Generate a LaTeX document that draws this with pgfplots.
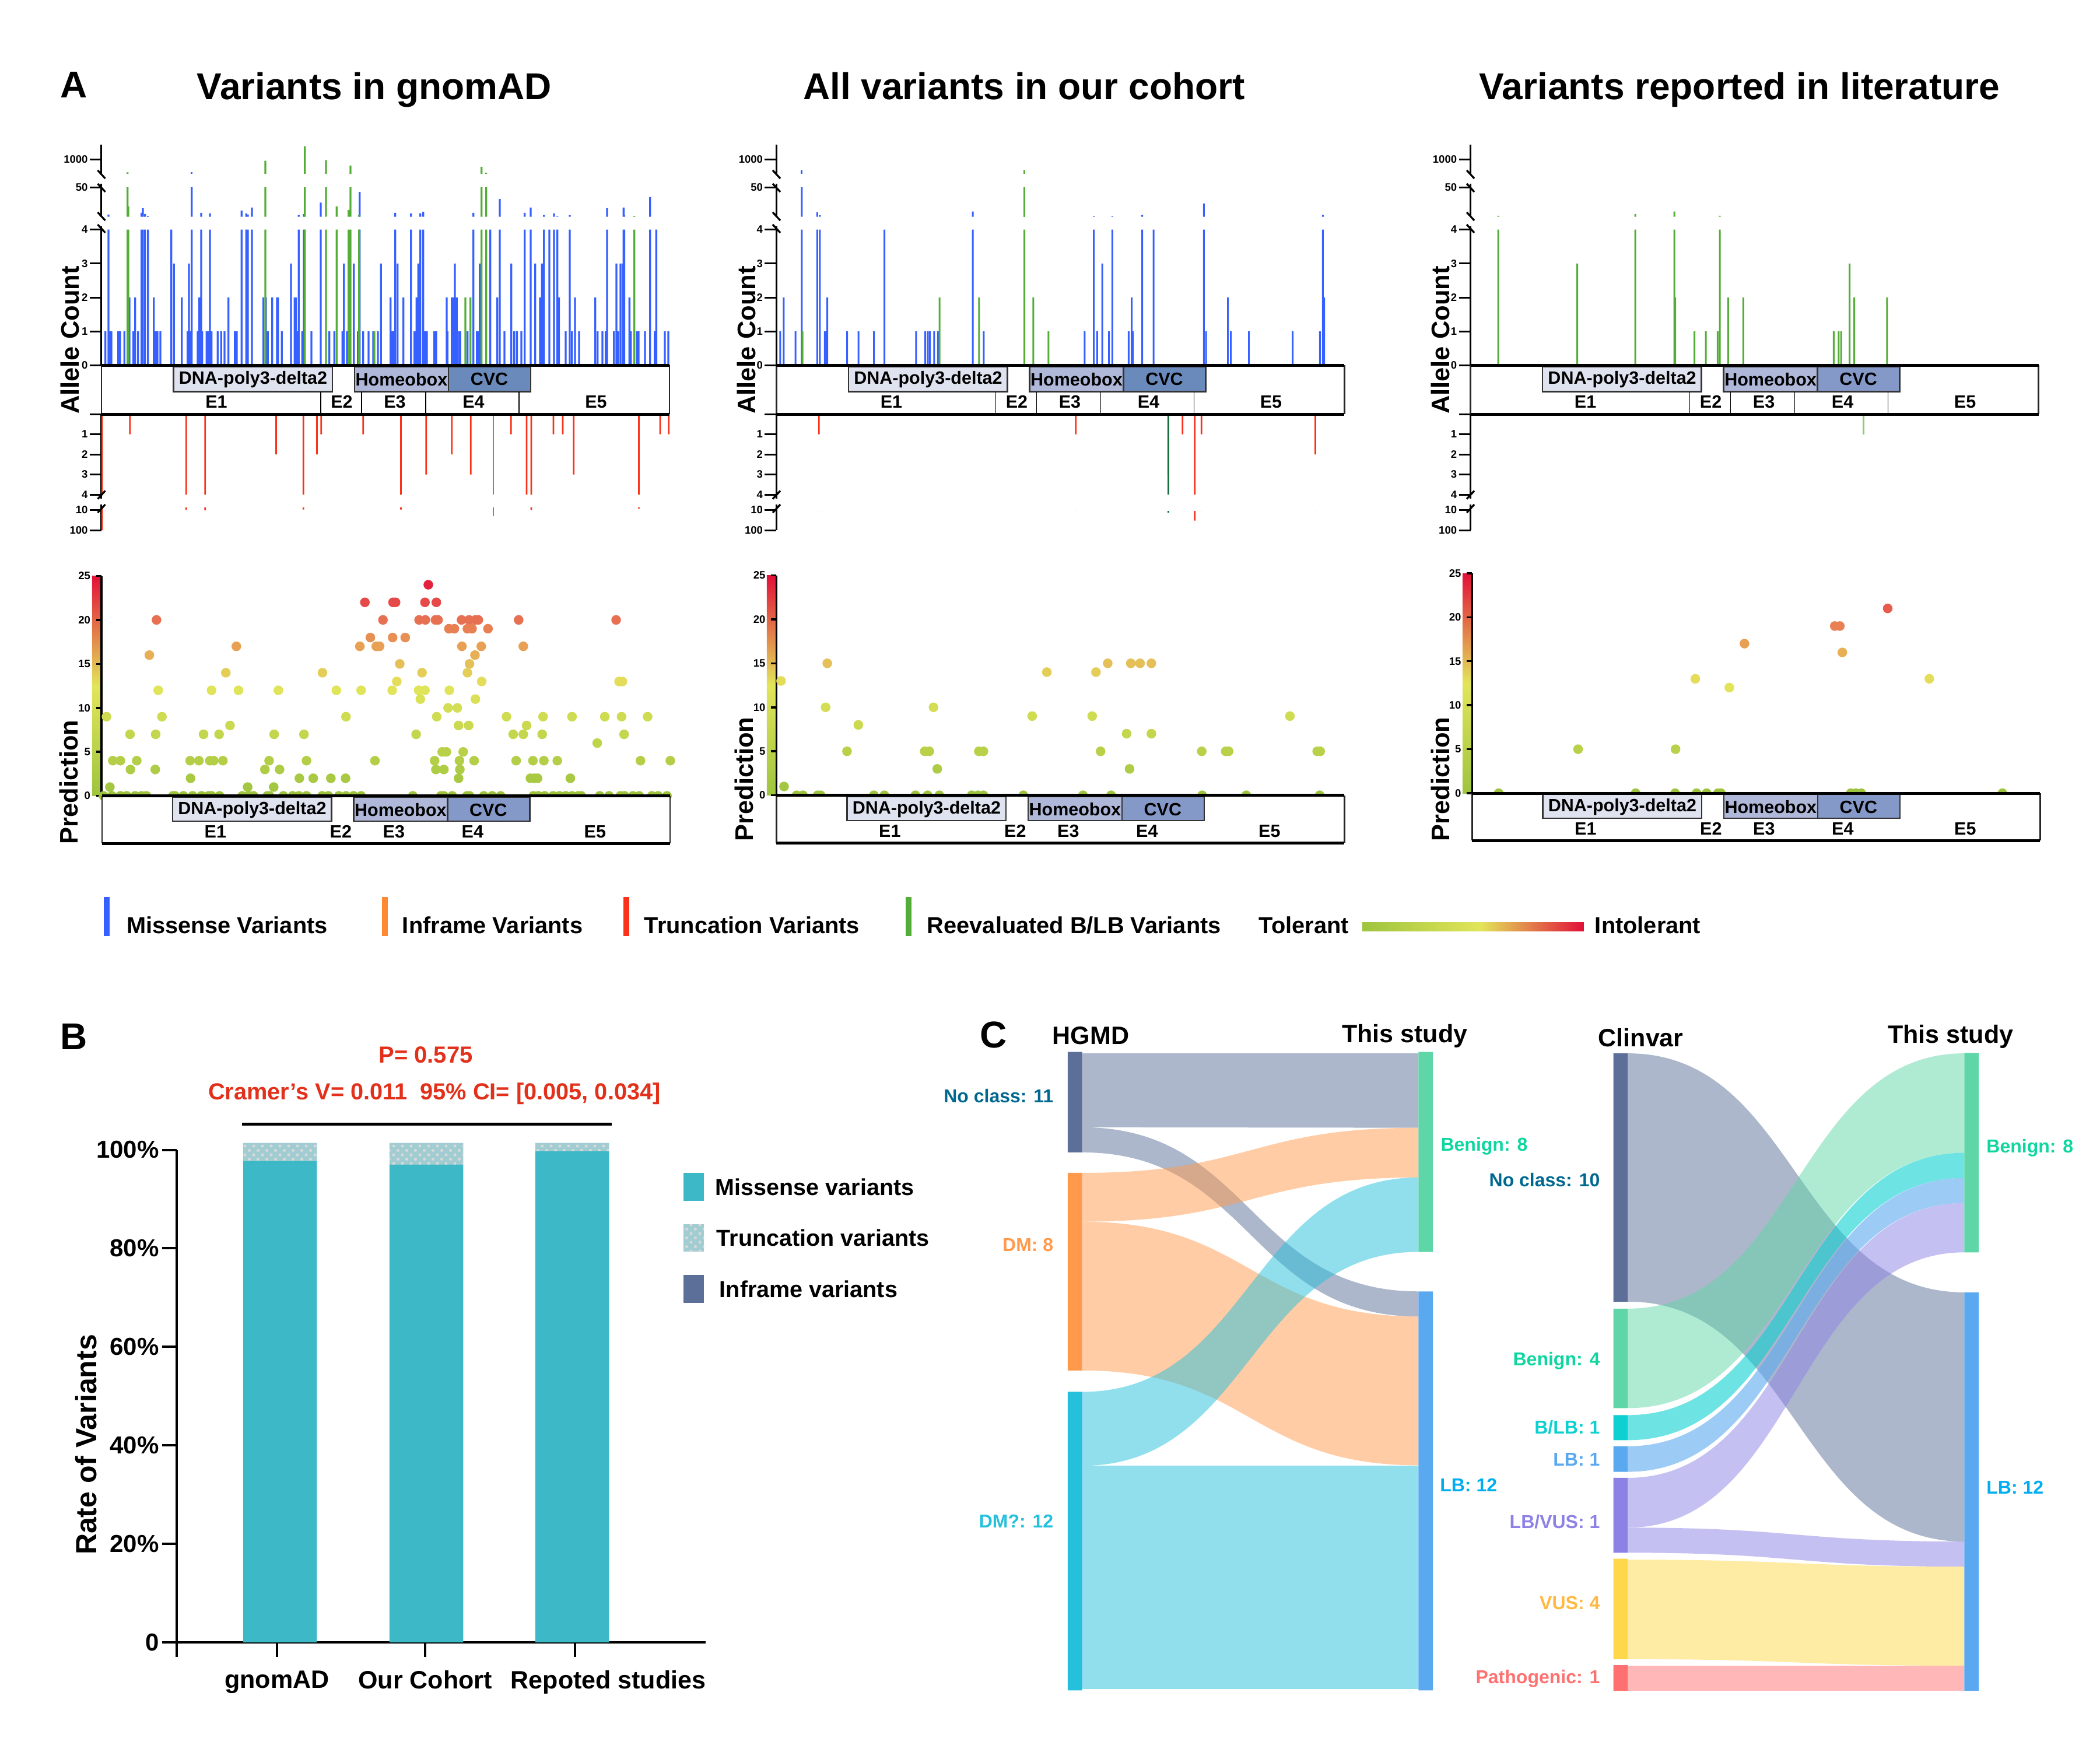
\documentclass[border=0pt]{standalone}
\usepackage{fontspec}
\setmainfont{Liberation Sans}
\usepackage{pgfplots}
\usepackage{pgfplotstable}
\pgfplotsset{compat=1.18}
\usetikzlibrary{patterns}
\definecolor{cblue}{HTML}{3660FF}
\definecolor{cgreen}{HTML}{54AD37}
\definecolor{clgreen}{HTML}{8CCB73}
\definecolor{cdgreen}{HTML}{1A7040}
\definecolor{cred}{HTML}{FA3219}
\definecolor{corange}{HTML}{FF8833}
\definecolor{cteal}{HTML}{3CB8C6}
\definecolor{cgrey}{HTML}{5B6F98}
\definecolor{cmint}{HTML}{5FD6A8}
\definecolor{csky}{HTML}{5AA9F0}
\definecolor{ccyan}{HTML}{24C0DC}
\definecolor{cpeach}{HTML}{FF9A4D}
\definecolor{cturq}{HTML}{0ED0D0}
\definecolor{cviolet}{HTML}{8C82E6}
\definecolor{cyel}{HTML}{FED84A}
\definecolor{cpink}{HTML}{FF7070}
\definecolor{tnavy}{HTML}{00688F}
\definecolor{tmint}{HTML}{0FD6A0}
\definecolor{tsky}{HTML}{00AEF0}
\definecolor{torange}{HTML}{FFB840}
\definecolor{tred}{HTML}{E2301A}
\definecolor{cb0}{RGB}{158,196,62}
\definecolor{cb1}{RGB}{226,229,90}
\definecolor{cb2}{RGB}{226,16,56}
\newcommand{\fs}[1]{\fontsize{#1}{#1}\selectfont\bfseries}
\pgfplotsset{colormap={tol}{rgb255(0cm)=(158,196,62) rgb255(2.5cm)=(226,229,90) rgb255(3.4cm)=(232,160,85) rgb255(4cm)=(232,112,82) rgb255(5cm)=(226,16,56)}}

% ---------- Panel A, allele counts, position in picture pixels
\pgfplotstableread[row sep=\\]{x y\\
180.7 1\\186 7.3\\189 1\\191 1\\202.7 1\\206 1\\213.3 1\\222 2\\228.7 1\\231.7 2\\236.7 1\\242.7 10\\245 17.3\\248.7 8.2\\253.7 5.2\\263.7 2\\267.3 1\\270 1\\275 1\\293.7 4\\298.3 3\\311.7 2\\321.7 1\\324 3\\326.7 1\\328.7 153\\339 1\\341.7 2\\345 10\\346.7 1\\354.3 1\\356.7 1\\360 9.1\\362.7 1\\373.3 1\\379.3 1\\385 1\\391.7 2\\402.7 1\\406 1\\414.3 13.4\\422.3 9.1\\425 7.3\\432 18.2\\451.7 2\\456 2\\459.3 1\\466.7 2\\475 2\\476.7 2\\483.3 1\\499 3\\505.3 2\\507.3 2\\509.3 1\\512.3 6.4\\518.3 1\\521 8.2\\534 1\\550 26\\564.7 1\\573.3 1\\587.3 1\\589.7 3\\595 1\\606.7 3\\613.7 1\\616.7 42.7\\622.7 1\\632 1\\640 1\\648 1\\653.3 3\\
669.7 2\\672.7 1\\675.3 1\\677.7 10\\681.7 3\\691.7 2\\704.7 9.1\\710.7 1\\714.3 2\\717.3 3\\720.7 9.1\\725.7 11.6\\728.7 1\\732 1\\744.7 1\\748 1\\766 2\\767.3 1\\774.7 2\\777.3 2\\780 3\\783.3 2\\787 1\\789.3 1\\801.7 1\\811.7 10\\817.7 1\\820.7 1\\822.7 3\\840.7 4\\852.7 2\\857 31.8\\865 1\\876.7 3\\881.7 1\\886.3 1\\894 1\\899.7 10\\910 18.2\\917.7 3\\926 2\\929.3 3\\932.7 6.4\\942 4\\950 9.1\\955.7 4.9\\958.3 2\\970 1\\977 6.4\\980.7 1\\986 2\\993 1\\1020.7 2\\1024.7 1\\1033 1\\1038.7 1\\1041 17.3\\1052.7 1\\1057 3\\1060 1\\1064 3\\1068 3\\1069.3 18.2\\1070.5 6\\1079.3 2\\1081.7 1\\1092.3 1\\1095 1\\1106 1\\1114.7 34.6\\1122.7 1\\1125.3 4\\1140 1\\1146 1\\
}\blueA
\pgfplotstableread[row sep=\\]{x y\\
218.7 153\\220 20\\455 897\\522.7 1835\\559 936\\577.3 20\\597.7 14.6\\601 589\\615.7 6.4\\642 1\\798 2\\806.7 2\\825.7 512\\833.7 114\\1087.7 5.2\\
}\greenA
\pgfplotstableread[row sep=\\]{x y\\
175 100\\222.7 1\\319.3 10\\351.7 12\\473.5 2\\520.3 9\\543.4 2\\550.6 1\\622.7 1\\687.5 9\\730.8 3\\774.7 2\\807.2 3\\876.3 1\\903 4\\911 11\\949 1\\965 1\\983.7 3\\1095.4 5\\1132 1\\1146.6 1\\
}\redA
\pgfplotstableread[row sep=\\]{x y\\
846 38\\
}\lgreenA

\pgfplotstableread[row sep=\\]{x y\\
1338 1\\1343.8 2\\1364 1\\1374.8 278\\1401.4 10.8\\1405.8 6.3\\1414.4 1\\1416.6 1\\1418.7 2\\1452.6 1\\1472 1\\1498.7 1\\1516.7 4\\1570.8 1\\1586.6 1\\1591 1\\1594.6 1\\1601.8 1\\1608.3 1\\1668 12\\1686.8 1\\1859.8 1\\1875.6 5\\1881.4 1\\1890 3\\1901.6 1\\1907.3 5\\1935.4 1\\1940.5 2\\1942.6 1\\1958.5 6.7\\1978 4\\2064.4 24.7\\2068 1\\2105.5 2\\2110.6 1\\2141.6 1\\2216.5 1\\2263.3 1\\2268.4 6.7\\2270.6 2\\
}\blueB
\pgfplotstableread[row sep=\\]{x y\\
1376.2 1\\1611 2\\1678.9 2\\1756.7 278\\1771.8 2\\1797.8 1\\
}\greenB
\pgfplotstableread[row sep=\\]{x y\\
1404.3 1\\1844.6 1\\2003.2 3\\2027.7 1\\2048.6 58\\2060.1 1\\2255.4 2\\
}\redB
\pgfplotstableread[row sep=\\]{x y\\
2003.6 23\\
}\lgreenB

\pgfplotstableread[row sep=\\]{x y\\
2569.2 5.5\\2704.7 3\\2804.1 8\\2871.1 12.2\\2872.6 2\\2905.7 1\\2925.2 1\\2945.4 1\\2949 5.5\\2963.4 2\\2989.3 2\\3144.3 1\\3152.9 1\\3157.2 1\\3171.7 3\\3179.6 2\\3235.8 2\\
}\greenC
\pgfplotstableread[row sep=\\]{x y\\
3195.4 1\\
}\lgreenC

% ---------- Panel A, prediction scores
\pgfplotstableread[row sep=\\]{x y\\
908 24\\757 22\\824 22\\830 22\\900 22\\927 22\\
261 20\\800 20\\886 20\\901 20\\925 20\\931 20\\987 20\\1005 20\\1020 20\\1027 20\\1123 20\\1355 20\\
957 19\\970 19\\1001 19\\1012 19\\1050 19\\770 18\\823 18\\853 18\\
451 17\\745 17\\784 17\\792 17\\988 17\\1034 17\\1134 17\\244 16\\1019 16\\840 15\\1006 15\\
426 14\\656 14\\893 14\\1001 14\\833 13\\1035 13\\1362 13\\1370 13\\
265 12\\392 12\\456 12\\551 12\\689 12\\748 12\\822 12\\885 12\\900 12\\958 12\\889 11\\1020 11\\955 10\\977 10\\
142 9\\274 9\\712 9\\928 9\\1094 9\\1181 9\\1250 9\\1328 9\\1368 9\\1430 9\\436 8\\980 8\\1004 8\\1142 8\\
198 7\\259 7\\373 7\\410 7\\541 7\\612 7\\879 7\\1110 7\\1134 7\\1179 7\\1374 7\\1310 6\\941 5\\951 5\\991 5\\
157 4\\175 4\\214 4\\341 4\\362 4\\388 4\\397 4\\419 4\\529 4\\618 4\\781 4\\923 4\\982 4\\1017 4\\1117 4\\1157 4\\1183 4\\1215 4\\1413 4\\1484 4\\
199 3\\258 3\\519 3\\554 3\\926 3\\945 3\\983 3\\342 2\\601 2\\634 2\\676 2\\711 2\\980 2\\1151 2\\1160 2\\1168 2\\1246 2\\150 1\\478 1\\540 1\\
135 0\\155 0\\175 0\\190 0\\210 0\\225 0\\237 0\\300 0\\305 0\\325 0\\347 0\\368 0\\385 0\\392 0\\411 0\\465 0\\480 0\\492 0\\525 0\\530 0\\563 0\\585 0\\600 0\\618 0\\655 0\\670 0\\695 0\\712 0\\730 0\\748 0\\871 0\\938 0\\945 0\\965 0\\1000 0\\1006 0\\1040 0\\1060 0\\1080 0\\1158 0\\1170 0\\1185 0\\1205 0\\1220 0\\1235 0\\1250 0\\1265 0\\1272 0\\1316 0\\1338 0\\1365 0\\1375 0\\1395 0\\1410 0\\1440 0\\1455 0\\1476 0\\
}\scatA
\pgfplotstableread[row sep=\\]{x y\\
138 13\\248 15\\916 15\\971 15\\993 15\\1020 15\\771 14\\888 14\\244 10\\501 10\\736 9\\879 9\\1350 9\\322 8\\961 7\\1020 7\\295 5\\480 5\\491 5\\609 5\\620 5\\899 5\\1140 5\\1197 5\\1204 5\\1415 5\\1422 5\\510 3\\968 3\\145 1\\
175 0\\190 0\\225 0\\232 0\\359 0\\384 0\\458 0\\487 0\\515 0\\592 0\\607 0\\620 0\\715 0\\857 0\\924 0\\1141 0\\1246 0\\1421 0\\
}\scatB
\pgfplotstableread[row sep=\\]{x y\\
1134 21\\1008 19\\1020 19\\793 17\\1026 16\\676 13\\1233 13\\757 12\\397 5\\629 5\\208 0\\534 0\\628 0\\679 0\\703 0\\730 0\\737 0\\1046 0\\1058 0\\1071 0\\1407 0\\
}\scatC

\tikzset{px/.style={x=0.2pt,y=-0.2pt}}
\pgfplotsset{
 pos/.style n args={2}{at={({#1*0.2pt},{-#2*0.2pt})}},
 segbase/.style={scale only axis, axis x line=none, axis y line=left,
   y axis line style={-,line width=.6pt,black},
   ytick style={line width=.6pt,black}, tick align=outside, major tick length=4pt,
   minor tick num=0, width=194.8pt, anchor=south west, clip=true,
   /pgf/number format/assume math mode=true, /pgf/number format/1000 sep={},
   yticklabel style={font=\fs{3.7},inner sep=.5pt}},
 up1/.style={segbase,height=47.72pt,ymin=0,ymax=4.1,ytick={0,1,2,3,4},y filter/.expression={y>4?4:y}},
 up2/.style={segbase,height=11.3pt,ymin=4,ymax=55.5,ytick={50},y filter/.expression={y>50?50:y},restrict y to domain=4.1:100000},
 up3/.style={segbase,height=10pt,ymin=50,ymax=1950,ytick={1000},restrict y to domain=50.1:100000},
 lo1/.style={segbase,height=29pt,ymin=0,ymax=4.2,y dir=reverse,ytick={0,1,2,3,4},yticklabels={,1,2,3,4},y filter/.expression={y>4?4:y}},
 lo2/.style={segbase,height=8.86pt,ymin=-14,ymax=100,y dir=reverse,ytick={10,100},restrict y to domain=4.5:100000},
 pred/.style={scale only axis, axis x line=none, axis y line=left,
   y axis line style={-,line width=.7pt,black},
   ytick style={line width=.7pt,black}, tick align=outside, major tick length=1.8pt,
   minor tick num=0, width=194.8pt, height=75.42pt, anchor=south west, clip=false,
   ymin=0,ymax=25,ytick={0,5,10,15,20,25},
   /pgf/number format/assume math mode=true,
   colormap name=tol, point meta min=0, point meta max=25,
   yticklabel style={font=\fs{3.7},inner sep=0pt,xshift=-1.8pt}},
}
\newcommand{\bars}[3]{\addplot[ybar,bar width=#3,bar shift=0pt,fill=#1,draw=none] table[x=x,y=y]{#2};}
\newcommand{\scatplot}[1]{\addplot[scatter,only marks,mark=*,mark size=1.45pt,point meta=y,
   scatter/use mapped color={draw=mapped color,fill=mapped color}] table[x=x,y=y]{#1};}
\newcommand{\brkd}[2]{\draw[line width=.65pt] (#1-6.5,#2-7) -- (#1+6.5,#2+7);}
\newcommand{\brku}[2]{\draw[line width=.65pt] (#1-6.5,#2+7) -- (#1+6.5,#2-7);}
\newcommand{\breaks}[1]{\brkd{#1}{299}\brkd{#1}{322}\brkd{#1}{371}\brkd{#1}{392}\brku{#1}{848.5}\brku{#1}{872}}
% gene box: left, top, bottom, domain offset, domain bottom, label row, CVC colour
\newcommand{\genebox}[7]{%
 \fill[white] (#1,#2) rectangle (#1+974,#3);
 \draw[line width=.55pt,black!85] (#1,#2) -- (#1,#3) (#1+974,#2) -- (#1+974,#3);
 \filldraw[fill=HDna,draw=black!80,line width=.5pt] (#1+123.6+#4,#2+2) rectangle (#1+396+#4,#5);
 \filldraw[fill=HHom,draw=black!80,line width=.5pt] (#1+434+#4,#2+2) rectangle (#1+595+#4,#5);
 \filldraw[fill=#7,draw=black!80,line width=.5pt] (#1+595+#4,#2+2) rectangle (#1+736+#4,#5);
 \path[font=\fs{6.1}] (#1+260+#4,#2+24) node{DNA-poly3-delta2}
   (#1+514.5+#4,#2+24) node{Homeobox} (#1+665+#4,#2+24) node{CVC};
 \path[font=\fs{6.1}] (#1+197+#4,#6) node{E1} (#1+412+#4,#6) node{E2}
   (#1+503+#4,#6) node{E3} (#1+638+#4,#6) node{E4} (#1+848+#4,#6) node{E5};
 \draw[line width=1pt] (#1,#2) -- (#1+974,#2) (#1,#3) -- (#1+974,#3);
}
\newcommand{\dividers}[1]{\draw[line width=.25pt] (#1+376,671.6) -- (#1+376,710) (#1+446,671.6) -- (#1+446,710) (#1+556,671.6) -- (#1+556,710) (#1+716,671.6) -- (#1+716,710);}
\definecolor{HDna}{HTML}{DFE3EF}
\definecolor{HHom}{HTML}{B0B8D9}
\definecolor{HCvcA}{HTML}{6B8ABC}
\definecolor{HCvcB}{HTML}{8599C8}
% colour bar: left, right, top, bottom
\newcommand{\cbar}[4]{\shade[bottom color=cb0,top color=cb1] (#1,#4) rectangle (#2,#3*0.5+#4*0.5+0.5);
 \shade[bottom color=cb1,top color=cb2] (#1,#3*0.5+#4*0.5) rectangle (#2,#3);}
% Sankey band: x0,xm,x1,s0,s1,t0,t1,colour,opacity from \bandop
\newcommand{\band}[9][.5]{\fill[#9,fill opacity=#1] (axis cs:#2,#5) .. controls (axis cs:#3,#5) and (axis cs:#3,#7) .. (axis cs:#4,#7) -- (axis cs:#4,#8) .. controls (axis cs:#3,#8) and (axis cs:#3,#6) .. (axis cs:#2,#6) -- cycle;}
\newcommand{\snode}[5]{\addplot[fill=#5,draw=none] coordinates {(#1,#3) (#2,#3) (#2,#4) (#1,#4) (#1,#3)};}

\begin{document}
\begin{tikzpicture}
\useasboundingbox (0pt,0pt) rectangle (720.2pt,-603pt);

\begin{scope}[px]
\node[font=\fs{12.8}] at (127,145) {A};
\node[font=\fs{12.8},anchor=base] at (642,170) {Variants in gnomAD};
\node[font=\fs{12.8},anchor=base] at (1756,170) {All variants in our cohort};
\node[font=\fs{12.8},anchor=base] at (2983,170) {Variants reported in literature};
\end{scope}

% ----- column 1
\begin{axis}[up3,pos={174}{298},xmin=174,xmax=1148] \bars{cblue}{\blueA}{.66pt}\bars{cgreen}{\greenA}{.66pt} \end{axis}
\begin{axis}[up2,pos={174}{371.5},xmin=174,xmax=1148] \bars{cblue}{\blueA}{.66pt}\bars{cgreen}{\greenA}{.66pt} \end{axis}
\begin{axis}[up1,pos={174}{626.4},xmin=174,xmax=1148] \bars{cblue}{\blueA}{.66pt}\bars{cgreen}{\greenA}{.66pt} \end{axis}
\begin{axis}[lo1,pos={174}{855},xmin=174,xmax=1148] \bars{cred}{\redA}{.55pt}\bars{cgreen}{\lgreenA}{.55pt} \end{axis}
\begin{axis}[lo2,pos={174}{909},xmin=174,xmax=1148] \bars{cred}{\redA}{.55pt}\bars{cgreen}{\lgreenA}{.55pt} \end{axis}
\begin{scope}[px]
\breaks{174}
\genebox{174}{626.4}{710}{0}{671.6}{689}{HCvcA}
\dividers{174}
\node[font=\fs{8.7},rotate=90] at (120,583) {Allele Count};
\cbar{158}{174}{987.5}{1364.6}
\end{scope}
\begin{axis}[pred,pos={174}{1364.6},xmin=130,xmax=1482] \scatplot{\scatA} \end{axis}
\begin{scope}[px]
\genebox{175}{1364.6}{1446}{-2.6}{1408}{1426}{HCvcB}
\node[font=\fs{8.7},rotate=90] at (118,1341) {Prediction};
\end{scope}

% ----- column 2
\begin{axis}[up3,pos={1331.5}{298},xmin=1331.5,xmax=2305.5] \bars{cblue}{\blueB}{.6pt}\bars{cgreen}{\greenB}{.6pt} \end{axis}
\begin{axis}[up2,pos={1331.5}{371.5},xmin=1331.5,xmax=2305.5] \bars{cblue}{\blueB}{.6pt}\bars{cgreen}{\greenB}{.6pt} \end{axis}
\begin{axis}[up1,pos={1331.5}{626.4},xmin=1331.5,xmax=2305.5] \bars{cblue}{\blueB}{.6pt}\bars{cgreen}{\greenB}{.6pt} \end{axis}
\begin{axis}[lo1,pos={1331.5}{855},xmin=1331.5,xmax=2305.5] \bars{cred}{\redB}{.55pt}\bars{cdgreen}{\lgreenB}{.55pt} \end{axis}
\begin{axis}[lo2,pos={1331.5}{909},xmin=1331.5,xmax=2305.5] \addplot[draw=none] coordinates {(1331.5,10)}; \end{axis}
\begin{axis}[scale only axis,hide axis,pos={1331.5}{909},anchor=south west,width=194.8pt,height=6.6pt,xmin=1331.5,xmax=2305.5,ymin=15,ymax=100,y dir=reverse,clip=true] \bars{cred}{\redB}{.55pt}\bars{cdgreen}{\lgreenB}{.55pt} \end{axis}
\begin{scope}[px]
\breaks{1331.5}
\genebox{1331.5}{626.4}{710}{0}{671.6}{689}{HCvcA}
\dividers{1331.5}
\node[font=\fs{8.7},rotate=90] at (1280,583) {Allele Count};
\cbar{1315}{1331.5}{986.5}{1363.6}
\end{scope}
\begin{axis}[pred,pos={1331.5}{1363.6},xmin=127,xmax=1480] \scatplot{\scatB} \end{axis}
\begin{scope}[px]
\genebox{1331.5}{1363.6}{1445}{-2.6}{1407}{1425}{HCvcB}
\node[font=\fs{8.7},rotate=90] at (1276,1336) {Prediction};
\end{scope}

% ----- column 3
\begin{axis}[up3,pos={2521.6}{298},xmin=2521.6,xmax=3495.6] \addplot[draw=none] coordinates {(2521.6,1000)}; \end{axis}
\begin{axis}[up2,pos={2521.6}{371.5},xmin=2521.6,xmax=3495.6] \bars{cgreen}{\greenC}{.6pt} \end{axis}
\begin{axis}[up1,pos={2521.6}{626.4},xmin=2521.6,xmax=3495.6] \bars{cgreen}{\greenC}{.6pt} \end{axis}
\begin{axis}[lo1,pos={2521.6}{855},xmin=2521.6,xmax=3495.6] \bars{clgreen}{\lgreenC}{.5pt} \end{axis}
\begin{axis}[lo2,pos={2521.6}{909},xmin=2521.6,xmax=3495.6] \addplot[draw=none] coordinates {(2521.6,10)}; \end{axis}
\begin{scope}[px]
\breaks{2521.6}
\genebox{2521.6}{626.4}{710}{0}{671.6}{689}{HCvcB}
\dividers{2521.6}
\node[font=\fs{8.7},rotate=90] at (2470,583) {Allele Count};
\cbar{2508}{2524.5}{983}{1360}
\end{scope}
\begin{axis}[pred,pos={2524.5}{1360},xmin=145,xmax=1497] \scatplot{\scatC} \end{axis}
\begin{scope}[px]
\genebox{2524.5}{1360}{1441}{-2.6}{1403}{1421}{HCvcB}
\node[font=\fs{8.7},rotate=90] at (2470,1336) {Prediction};

% ----- legend of panel A
\fill[cblue] (178.5,1538) rectangle (188.5,1605);
\fill[corange] (655,1538) rectangle (665,1605);
\fill[cred] (1069.5,1538) rectangle (1079.5,1605);
\fill[cgreen] (1553,1538) rectangle (1563,1605);
\path[font=\fs{7.95}] (216,1586) node[anchor=west,inner sep=0pt]{Missense Variants}
 (689,1586) node[anchor=west,inner sep=0pt]{Inframe Variants}
 (1104,1586) node[anchor=west,inner sep=0pt]{Truncation Variants}
 (1589,1586) node[anchor=west,inner sep=0pt]{Reevaluated B/LB Variants}
 (2158,1586) node[anchor=west,inner sep=0pt]{Tolerant}
 (2734,1586) node[anchor=west,inner sep=0pt]{Intolerant};
\shade[left color=cb0,right color=cb1] (2336,1581) rectangle (2540,1596);
\shade[left color=cb1,right color=cb2] (2539,1581) rectangle (2716,1596);
\node[font=\fs{12.8}] at (127,1777) {B};
\end{scope}

% ----- panel B
\begin{axis}[scale only axis,pos={303.5}{2816},anchor=south west,width=181.22pt,height=168.9pt,
  xmin=303.5,xmax=1209.6,ymin=0,ymax=100,clip=false,ybar stacked,bar width=25.3pt,
  axis x line=bottom,axis y line=left,
  axis line style={-,line width=.8pt,black},
  tick style={line width=.8pt,black},tick align=outside,major tick length=5pt,
  xtick={303.5,475,729,986},
  xticklabels={,gnomAD,Our Cohort,\hspace*{22.8pt}Repoted studies},
  ytick={0,20,40,60,80,100},yticklabels={0,20\%,40\%,60\%,80\%,100\%},
  x tick label style={font=\fs{8.6},yshift=-1.2pt},
  y tick label style={font=\fs{8.4},inner sep=1pt},minor tick num=0]
\addplot[fill=cteal,draw=none] coordinates {(480,97.7) (731,97) (981,99.7)};
\addplot[fill=gray!35!cteal!55,draw=none,postaction={pattern=crosshatch dots,pattern color=white!70!gray}] coordinates {(480,3.7) (731,4.4) (981,1.7)};
\addplot[fill=cgrey,draw=none] coordinates {(480,0) (731,0) (981,0)};
\end{axis}
\begin{scope}[px]
\node[font=\fs{10},rotate=90] at (148,2477) {Rate of Variants};
\node[font=\fs{8},text=tred] at (730,1809) {P= 0.575};
\node[font=\fs{7.95},text=tred] at (745,1875) {Cramer’s V= 0.011\ \ 95\% CI= [0.005, 0.034]};
\draw[line width=1pt] (415,1927) -- (1049,1927);
\fill[cteal] (1172,2011) rectangle (1207.5,2059);
\fill[gray!35!cteal!55] (1172,2099) rectangle (1207.5,2146);
\fill[pattern=crosshatch dots,pattern color=white!70!gray] (1172,2099) rectangle (1207.5,2146);
\fill[cgrey] (1172,2186) rectangle (1207.5,2234);
\path[font=\fs{7.9}] (1226,2035) node[anchor=west,inner sep=0pt]{Missense variants}
 (1228,2122.6) node[anchor=west,inner sep=0pt]{Truncation variants}
 (1233,2210) node[anchor=west,inner sep=0pt]{Inframe variants};
\end{scope}

% ----- panel C
\begin{axis}[scale only axis,hide axis,pos={1660}{2970},anchor=south west,width=388.2pt,height=250pt,
  xmin=0,xmax=1568,ymin=0,ymax=1568,y dir=reverse,clip=false]
\band{158}{391}{624}{108}{267}{108}{268}{cgrey}
\band{158}{391}{624}{267}{321}{620}{674}{cgrey}
\band{158}{391}{624}{365}{470}{268}{375}{cpeach}
\band{158}{391}{624}{470}{790}{674}{994}{cpeach}
\band{158}{391}{624}{836}{995}{375}{535}{ccyan}
\band{158}{391}{624}{995}{1475}{995}{1475}{ccyan}
\snode{138}{158}{105}{321}{cgrey}
\snode{138}{158}{365}{790}{cpeach}
\snode{138}{158}{836}{1478}{ccyan}
\snode{624}{644}{105}{535}{cmint}
\snode{624}{644}{620}{1478}{csky}
\band{914}{1147}{1380}{108}{642}{622}{1158}{cgrey}
\band{914}{1147}{1380}{657}{871}{108}{322}{cmint}
\band[.6]{914}{1147}{1380}{886}{940}{322}{376}{cturq}
\band[.6]{914}{1147}{1380}{953}{1008}{376}{430}{csky}
\band{914}{1147}{1380}{1021}{1128}{430}{536}{cviolet}
\band{914}{1147}{1380}{1128}{1182}{1158}{1212}{cviolet}
\band{914}{1147}{1380}{1197}{1411}{1212}{1425}{cyel}
\band{914}{1147}{1380}{1425}{1479}{1425}{1479}{cpink}
\snode{894}{914}{108}{642}{cgrey}
\snode{894}{914}{657}{871}{cmint}
\snode{894}{914}{886}{940}{cturq}
\snode{894}{914}{953}{1008}{csky}
\snode{894}{914}{1021}{1182}{cviolet}
\snode{894}{914}{1195}{1411}{cyel}
\snode{894}{914}{1424}{1479}{cpink}
\snode{1380}{1400}{107}{536}{cmint}
\snode{1380}{1400}{622}{1479}{csky}
\node[font=\fs{12.8}] at (axis cs:35,68) {C};
\node[font=\fs{8.6}] at (axis cs:170,70) {HGMD};
\node[font=\fs{8.6}] at (axis cs:605,71) {This study};
\node[font=\fs{8.6}] at (axis cs:932,74) {Clinvar};
\node[font=\fs{8.6}] at (axis cs:1361,72) {This study};
\node[font=\fs{6.4},text=tnavy,anchor=east,inner sep=0pt] at (axis cs:119,200) {No class: 11};
\node[font=\fs{6.4},text=cpeach,anchor=east,inner sep=0pt] at (axis cs:119,520) {DM: 8};
\node[font=\fs{6.4},text=ccyan,anchor=east,inner sep=0pt] at (axis cs:119,1114) {DM?: 12};
\node[font=\fs{6.4},text=tmint,anchor=west,inner sep=0pt] at (axis cs:654,308) {Benign: 8};
\node[font=\fs{6.4},text=tsky,anchor=west,inner sep=0pt] at (axis cs:653,1037) {LB: 12};
\node[font=\fs{6.4},text=tnavy,anchor=east,inner sep=0pt] at (axis cs:876,380) {No class: 10};
\node[font=\fs{6.4},text=tmint,anchor=east,inner sep=0pt] at (axis cs:876,769) {Benign: 4};
\node[font=\fs{6.4},text=cturq,anchor=east,inner sep=0pt] at (axis cs:876,912) {B/LB: 1};
\node[font=\fs{6.4},text=csky,anchor=east,inner sep=0pt] at (axis cs:876,982) {LB: 1};
\node[font=\fs{6.4},text=cviolet,anchor=east,inner sep=0pt] at (axis cs:876,1116) {LB/VUS: 1};
\node[font=\fs{6.4},text=torange,anchor=east,inner sep=0pt] at (axis cs:876,1290) {VUS: 4};
\node[font=\fs{6.4},text=cpink,anchor=east,inner sep=0pt] at (axis cs:876,1453) {Pathogenic: 1};
\node[font=\fs{6.4},text=tmint,anchor=west,inner sep=0pt] at (axis cs:1410,312) {Benign: 8};
\node[font=\fs{6.4},text=tsky,anchor=west,inner sep=0pt] at (axis cs:1410,1042) {LB: 12};
\end{axis}
\end{tikzpicture}
\end{document}
